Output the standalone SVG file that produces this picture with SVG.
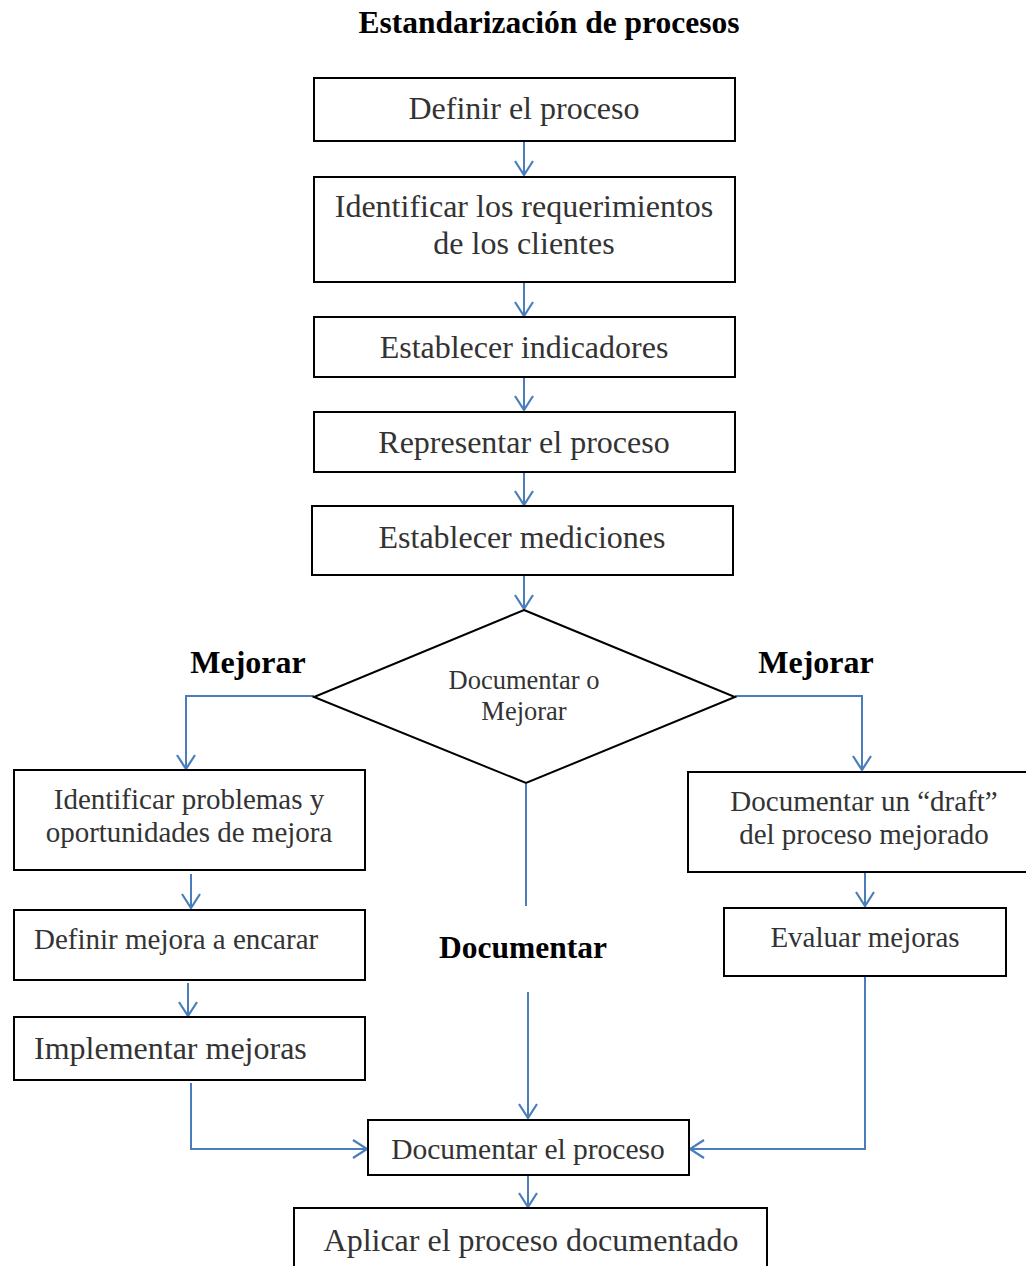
<svg xmlns="http://www.w3.org/2000/svg" width="1026" height="1266" viewBox="0 0 1026 1266">
<style>
.box{fill:#fff;stroke:#000;stroke-width:2}
.t{font-family:"Liberation Serif","Times New Roman",serif;fill:#333;text-anchor:middle}
.s{text-anchor:start}
.b{font-family:"Liberation Serif","Times New Roman",serif;fill:#000;font-weight:bold;text-anchor:middle}
.c{fill:none;stroke:#4a7ebb;stroke-width:2}
</style>
<defs>
<marker id="ah" viewBox="0 0 20 20" refX="18" refY="10" markerWidth="20" markerHeight="20" markerUnits="userSpaceOnUse" orient="auto">
<path d="M4,1 L18,10 L4,19" fill="none" stroke="#4a7ebb" stroke-width="2.2"/>
</marker>
</defs>
<rect width="1026" height="1266" fill="#fff"/>
<text class="b" x="549" y="33" font-size="31.5">Estandarización de procesos</text>

<g id="connectors">
<path class="c" d="M524,142 V175" marker-end="url(#ah)"/>
<path class="c" d="M524,283 V316" marker-end="url(#ah)"/>
<path class="c" d="M524,378 V410" marker-end="url(#ah)"/>
<path class="c" d="M524,473 V505" marker-end="url(#ah)"/>
<path class="c" d="M524,576 V609" marker-end="url(#ah)"/>
<path class="c" d="M314,696 H186 V769" marker-end="url(#ah)"/>
<path class="c" d="M735,696 H862 V770" marker-end="url(#ah)"/>
<path class="c" d="M526,784 V906"/>
<path class="c" d="M528,992 V1118" marker-end="url(#ah)"/>
<path class="c" d="M191,874 V908" marker-end="url(#ah)"/>
<path class="c" d="M188,983 V1016" marker-end="url(#ah)"/>
<path class="c" d="M191,1083 V1149 H367" marker-end="url(#ah)"/>
<path class="c" d="M865,873 V906" marker-end="url(#ah)"/>
<path class="c" d="M865,977 V1149 H690" marker-end="url(#ah)"/>
<path class="c" d="M528,1176 V1207" marker-end="url(#ah)"/>
</g>

<g id="n1"><rect class="box" x="314" y="78" width="421" height="63"/><text class="t" x="524" y="119" font-size="32">Definir el proceso</text></g>
<g id="n2"><rect class="box" x="314" y="177" width="421" height="105"/><text class="t" x="524" y="217" font-size="32">Identificar los requerimientos</text><text class="t" x="524" y="254" font-size="32">de los clientes</text></g>
<g id="n3"><rect class="box" x="314" y="317" width="421" height="60"/><text class="t" x="524" y="358" font-size="32">Establecer indicadores</text></g>
<g id="n4"><rect class="box" x="314" y="412" width="421" height="60"/><text class="t" x="524" y="453" font-size="32">Representar el proceso</text></g>
<g id="n5"><rect class="box" x="312" y="506" width="421" height="69"/><text class="t" x="522" y="548" font-size="32">Establecer mediciones</text></g>
<g id="decision"><path d="M524,610 L735,697 L526,783 L314,697 Z" fill="#fff" stroke="#000" stroke-width="2"/><text class="t" x="524" y="689" font-size="26.5">Documentar o</text><text class="t" x="524" y="720" font-size="26.5">Mejorar</text></g>
<g id="lbl-mejorar-l"><text class="b" x="248" y="673" font-size="32">Mejorar</text></g>
<g id="lbl-mejorar-r"><text class="b" x="816" y="673" font-size="32">Mejorar</text></g>
<g id="lbl-documentar"><text class="b" x="523" y="958" font-size="31.5">Documentar</text></g>
<g id="l1"><rect class="box" x="14" y="770" width="351" height="100"/><text class="t" x="189" y="809" font-size="29">Identificar problemas y</text><text class="t" x="189" y="842" font-size="29">oportunidades de mejora</text></g>
<g id="l2"><rect class="box" x="14" y="910" width="351" height="70"/><text class="t s" x="34" y="949" font-size="29">Definir mejora a encarar</text></g>
<g id="l3"><rect class="box" x="14" y="1017" width="351" height="63"/><text class="t s" x="34" y="1059" font-size="32">Implementar mejoras</text></g>
<g id="r1"><rect class="box" x="688" y="772" width="345" height="100"/><text class="t" x="864" y="811" font-size="29">Documentar un “draft”</text><text class="t" x="864" y="844" font-size="29">del proceso mejorado</text></g>
<g id="r2"><rect class="box" x="724" y="908" width="282" height="68"/><text class="t" x="865" y="947" font-size="29">Evaluar mejoras</text></g>
<g id="n6"><rect class="box" x="368" y="1120" width="321" height="55"/><text class="t" x="528" y="1159" font-size="29.5">Documentar el proceso</text></g>
<g id="n7"><rect class="box" x="294" y="1208" width="473" height="70"/><text class="t" x="531" y="1251" font-size="32">Aplicar el proceso documentado</text></g>
</svg>
